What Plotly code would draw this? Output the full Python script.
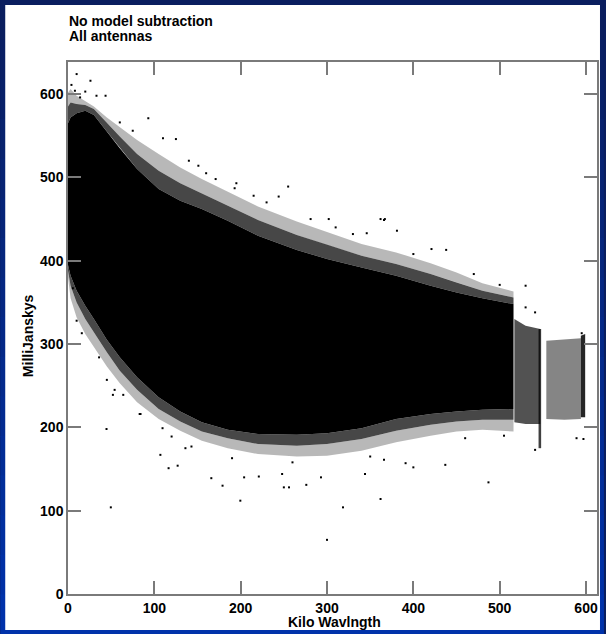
import plotly.graph_objects as go

# ---- data (Kilo Wavlngth vs MilliJanskys) ----
# common x grid for the envelopes of the dense cloud
env_x = [0, 3, 10, 20, 30, 45, 60, 80, 105, 130, 155, 185, 220, 265, 300, 340, 380, 420, 450, 480, 516]
# upper edge of the solid core
core_top = [565, 572, 577, 580, 575, 555, 535, 510, 486, 472, 462, 448, 430, 413, 402, 392, 382, 370, 362, 355, 348]
# lower edge of the solid core
core_bot = [395, 382, 364, 346, 330, 305, 284, 260, 236, 219, 206, 197, 192, 191, 193, 199, 210, 216, 219, 221, 222]
# edge of the dense speckle above / below the core
dense_top = [585, 590, 588, 587, 582, 565, 549, 528, 508, 493, 481, 466, 449, 431, 419, 406, 396, 384, 374, 364, 356]
dense_bot = [388, 370, 350, 330, 314, 290, 268, 245, 222, 207, 195, 187, 180, 178, 180, 186, 196, 203, 207, 209, 209]
# outer edge of the sparse speckle above / below
fringe_top = [602, 606, 598, 592, 585, 572, 560, 545, 528, 512, 498, 483, 465, 447, 434, 420, 410, 397, 386, 373, 363]
fringe_bot = [380, 355, 332, 312, 296, 273, 253, 230, 210, 196, 184, 175, 168, 165, 166, 172, 182, 190, 195, 197, 195]

# sparse blocks beyond 516 kilo-wavelengths
blockA_x = [517, 530, 547, 547, 530, 517]
blockA_y = [330, 322, 318, 204, 204, 206]
streakA_x = [545, 548, 548, 545]
streakA_y = [318, 318, 175, 175]
blockB_x = [554, 575, 594, 594, 575, 554]
blockB_y = [304, 306, 307, 210, 209, 210]
stripC_x = [594, 599, 599, 594]
stripC_y = [310, 312, 212, 212]

# isolated outlying visibilities
out_x = [10, 26, 93, 43.5, 33, 110, 125, 151, 171, 193, 195, 255, 244, 302, 362, 367, 381, 281, 346,
         530, 366, 421, 438, 530, 541, 595, 4, 8, 14,
         44.6, 49.6, 107, 116.5, 127, 136, 143, 36, 45, 54, 64, 83, 109.5,
         166, 179, 199.6, 250, 256, 276, 293, 318.5, 362, 344, 248, 221, 204, 300, 487,
         400, 437, 391, 366, 589, 597, 541, 10, 16, 5.6, 52, 84,
         20, 60, 75, 140, 160, 215, 230, 310, 330, 400, 470, 500, 120, 190, 260, 350, 460, 505]
out_y = [624, 616, 571, 598, 598, 547, 546, 514, 498, 487, 493, 489, 477, 450, 450, 450, 436, 450, 433,
         370, 449, 414, 413, 344, 338, 313, 611, 604, 596,
         198, 104, 167, 151, 154, 175, 177, 284, 257, 245, 239, 216, 199,
         139, 130, 112, 128, 128, 131, 140, 104, 114, 144, 144, 141, 140, 65, 134,
         152, 155, 157, 161, 187, 186, 173, 328, 313, 367, 239, 216,
         603, 566, 556, 520, 505, 478, 470, 440, 432, 408, 384, 371, 189, 163, 158, 165, 187, 190]

x_ticks = [0, 100, 200, 300, 400, 500, 600]
y_ticks = [0, 100, 200, 300, 400, 500, 600]

fig = go.Figure()

def band(xs, ys, color):
    fig.add_trace(go.Scatter(x=xs, y=ys, mode="lines", line=dict(width=0),
                             fill="toself", fillcolor=color, hoverinfo="skip",
                             showlegend=False))

band(env_x + env_x[::-1], fringe_top + dense_top[::-1], "rgba(0,0,0,0.28)")
band(env_x + env_x[::-1], dense_bot + fringe_bot[::-1], "rgba(0,0,0,0.28)")
band(env_x + env_x[::-1], dense_top + core_top[::-1], "rgba(0,0,0,0.72)")
band(env_x + env_x[::-1], core_bot + dense_bot[::-1], "rgba(0,0,0,0.72)")
band(env_x + env_x[::-1], core_top + core_bot[::-1], "#000000")
band(blockA_x, blockA_y, "rgba(0,0,0,0.68)")
band(streakA_x, streakA_y, "rgba(0,0,0,0.75)")
band(blockB_x, blockB_y, "rgba(0,0,0,0.48)")
band(stripC_x, stripC_y, "rgba(0,0,0,0.85)")

fig.add_trace(go.Scatter(x=out_x, y=out_y, mode="markers",
                         marker=dict(symbol="square", size=2, color="black", line=dict(width=0)),
                         showlegend=False, hoverinfo="skip"))

# --- page frame: blue gradient border with white panel ---
L, R, T, B = 68, 7, 62, 40
W, H = 606, 634
pw, ph = W - L - R, H - T - B
def px(xp):
    return (xp - L) / pw
def py(yp):
    return (H - B - yp) / ph

shapes = []
nb = 16
top_c = (10, 30, 95)
bot_c = (0, 50, 170)
for i in range(nb):
    f = i / (nb - 1)
    c = tuple(int(top_c[k] + (bot_c[k] - top_c[k]) * f) for k in range(3))
    shapes.append(dict(type="rect", xref="paper", yref="paper", layer="below",
                       x0=px(0), x1=px(W), y0=py(H * (i + 1) / nb + 1), y1=py(H * i / nb),
                       fillcolor="rgb(%d,%d,%d)" % c, line=dict(width=0)))
shapes.append(dict(type="rect", xref="paper", yref="paper", layer="below",
                   x0=px(5), x1=px(602), y0=py(630), y1=py(5),
                   fillcolor="white", line=dict(width=0)))

font = dict(family="Liberation Sans, Arial, sans-serif", size=14, color="black", weight="bold")

axis_common = dict(showgrid=False, zeroline=False, showline=True, linecolor="#7a7a7a",
                   linewidth=1.5, mirror="allticks", ticks="inside", ticklen=13,
                   tickwidth=1.5, tickcolor="#7a7a7a", tickfont=font)

fig.update_layout(
    width=W, height=H, autosize=False,
    margin=dict(l=L, r=R, t=T, b=B, pad=0),
    paper_bgcolor="rgb(10,30,95)", plot_bgcolor="white",
    shapes=shapes,
    xaxis=dict(range=[0, 612.7], tickvals=x_ticks, ticktext=[str(v) for v in x_ticks],
               **axis_common),
    yaxis=dict(range=[0, 638.5], tickvals=y_ticks, ticktext=[str(v) for v in y_ticks],
               **axis_common),
    annotations=[
        dict(text="No model subtraction", xref="paper", yref="paper", x=px(67), y=py(20.5),
             xanchor="left", yanchor="middle", showarrow=False, font=font),
        dict(text="All antennas", xref="paper", yref="paper", x=px(67), y=py(36),
             xanchor="left", yanchor="middle", showarrow=False, font=font),
        dict(text="MilliJanskys", xref="paper", yref="paper", x=px(28), y=py(336),
             xanchor="center", yanchor="middle", textangle=-90, showarrow=False, font=font),
        dict(text="Kilo Wavlngth", xref="paper", yref="paper", x=px(335.5), y=py(621.5),
             xanchor="center", yanchor="middle", showarrow=False, font=font),
    ],
)

fig.write_html("out.html")
